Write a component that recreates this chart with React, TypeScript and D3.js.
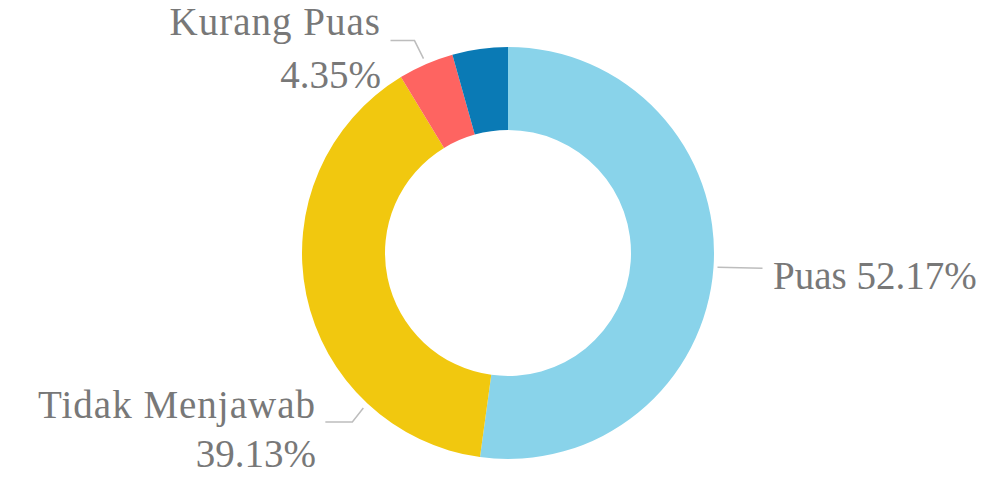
import React from "react";
import * as d3 from "d3";

const categories = ["Puas", "Tidak Menjawab", "Kurang Puas", "Sangat Puas"];
const values = [52.17, 39.13, 4.35, 4.35];
const colors = ["#89d3ea", "#f1c80f", "#fe6461", "#0a7ab5"];

const W = 1003, H = 478;
const cx = 508, cy = 253, rOuter = 206, rInner = 123;

export default function App() {
  const pie = d3.pie<number>().sort(null).value((d) => d);
  const arcs = pie(values);
  const arc = d3.arc<d3.PieArcDatum<number>>().innerRadius(rInner).outerRadius(rOuter);
  const font = "'Liberation Serif', serif";
  const textColor = "#787878";
  const lineColor = "#bdbdbd";
  const fs = 39;

  const pt = (a: number, r: number) => [cx + r * Math.sin(a), cy - r * Math.cos(a)];

  const labels: React.ReactNode[] = [];
  // Puas
  {
    const a = arcs[0];
    const m = (a.startAngle + a.endAngle) / 2;
    const [x0, y0] = pt(m, rOuter + 4);
    labels.push(
      <g key="l0">
        <polyline points={`${x0},${y0} ${x0 + 45},${y0 + 1}`} fill="none" stroke={lineColor} strokeWidth={1.5} />
        <text x={773} y={289} fontSize={fs} fill={textColor} fontFamily={font}>
          {`${categories[0]} ${values[0].toFixed(2)}%`}
        </text>
      </g>
    );
  }
  // Tidak Menjawab
  {
    const a = arcs[1];
    const m = a.startAngle + (a.endAngle - a.startAngle) * 0.25;
    const [x0, y0] = pt(m, rOuter + 6);
    labels.push(
      <g key="l1">
        <polyline points={`${x0},${y0} ${x0 - 11},${y0 + 14} ${x0 - 38},${y0 + 14}`} fill="none" stroke={lineColor} strokeWidth={1.5} />
        <text x={316} y={418} fontSize={fs} letterSpacing={1} fill={textColor} fontFamily={font} textAnchor="end">
          {categories[1]}
        </text>
        <text x={316} y={467} fontSize={fs} fill={textColor} fontFamily={font} textAnchor="end">
          {`${values[1].toFixed(2)}%`}
        </text>
      </g>
    );
  }
  // Kurang Puas
  {
    const a = arcs[2];
    const m = (a.startAngle + a.endAngle) / 2;
    const [x0, y0] = pt(m, rOuter + 6);
    labels.push(
      <g key="l2">
        <polyline points={`${x0},${y0} ${x0 - 9},${y0 - 18} ${x0 - 33},${y0 - 18}`} fill="none" stroke={lineColor} strokeWidth={1.5} />
        <text x={381} y={35} fontSize={fs} letterSpacing={1} fill={textColor} fontFamily={font} textAnchor="end">
          {categories[2]}
        </text>
        <text x={381} y={88} fontSize={fs} fill={textColor} fontFamily={font} textAnchor="end">
          {`${values[2].toFixed(2)}%`}
        </text>
      </g>
    );
  }

  return (
    <svg width={W} height={H} style={{ position: "absolute", left: 0, top: 0 }}>
      <rect width={W} height={H} fill="#ffffff" />
      <g transform={`translate(${cx},${cy})`}>
        {arcs.map((a, i) => (
          <path key={i} d={arc(a) || ""} fill={colors[i]} />
        ))}
      </g>
      {labels}
    </svg>
  );
}
